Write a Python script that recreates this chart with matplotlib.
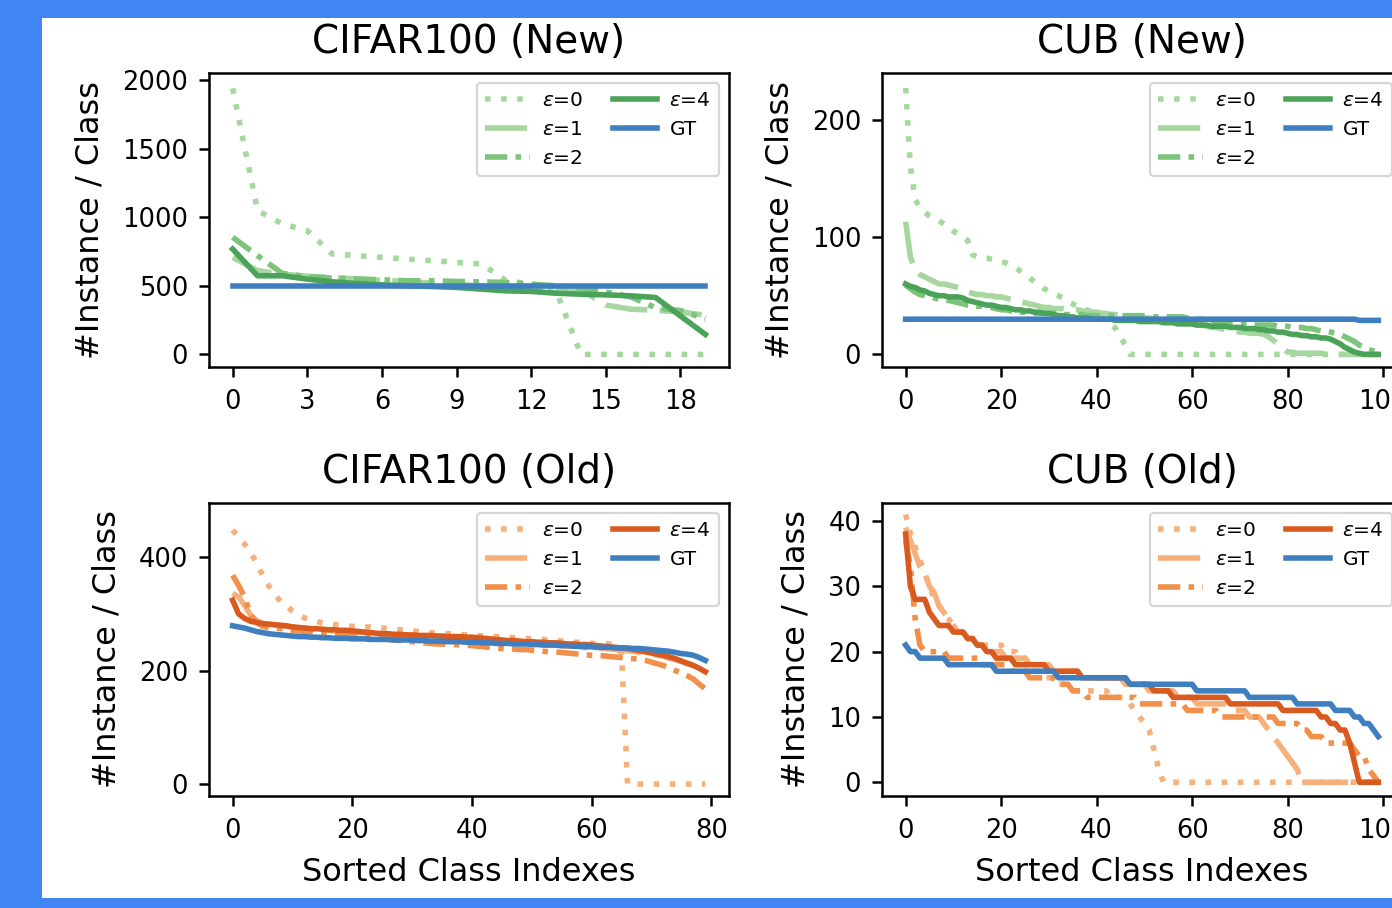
import numpy as np
import matplotlib
matplotlib.use('Agg')
import matplotlib.pyplot as plt
from matplotlib.patches import Rectangle

# ---- data (instances per sorted class) ----
cifar_new_eps0 = [1939, 1049, 951, 902, 732, 720, 707, 695, 683, 671,
                  659, 537, 512, 463, 0, 0, 0, 0, 0, 0]
cifar_new_eps1 = [707, 610, 585, 570, 560, 550, 540, 530, 520, 510,
                  500, 495, 490, 480, 470, 360, 330, 322, 310, 285]
cifar_new_eps2 = [854, 720, 590, 566, 556, 549, 544, 537, 537, 532,
                  529, 524, 512, 500, 483, 455, 420, 340, 320, 260]
cifar_new_eps4 = [768, 573, 573, 549, 529, 517, 507, 500, 495, 488,
                  476, 463, 459, 446, 439, 434, 427, 415, 280, 146]
cifar_new_gt = [500] * 20

cub_new_eps0 = [227, 160, 132, 125, 121, 118, 116, 114, 111, 108,
                105, 103, 100, 97, 85, 83, 82, 82, 81, 80,
                79, 78, 76, 74, 71, 68, 65, 62, 59, 56,
                54, 52, 50, 48, 45, 43, 41, 39, 38, 36,
                34, 31, 28, 25, 22, 15, 8, 0, 0, 0,
                0, 0, 0, 0, 0, 0, 0, 0, 0, 0,
                0, 0, 0, 0, 0, 0, 0, 0, 0, 0,
                0, 0, 0, 0, 0, 0, 0, 0, 0, 0,
                0, 0, 0, 0, 0, 0, 0, 0, 0, 0,
                0, 0, 0, 0, 0, 0, 0, 0, 0, 0]
cub_new_eps1 = [113, 83, 72, 68, 66, 64, 62, 60, 60, 59,
                58, 57, 55, 53, 52, 51, 51, 50, 50, 49,
                49, 48, 47, 46, 45, 44, 43, 42, 41, 40,
                40, 39, 39, 39, 38, 38, 38, 37, 37, 36,
                36, 35, 35, 34, 34, 33, 33, 33, 32, 32,
                31, 31, 30, 30, 29, 29, 28, 28, 27, 27,
                26, 25, 25, 24, 23, 23, 22, 21, 21, 20,
                19, 19, 18, 18, 18, 17, 15, 12, 9, 5,
                2, 2, 1, 1, 1, 1, 1, 1, 0, 0,
                0, 0, 0, 0, 0, 0, 0, 0, 0, 0]
cub_new_eps2 = [59, 56, 53, 51, 50, 49, 48, 47, 47, 46,
                45, 44, 43, 42, 42, 41, 41, 40, 40, 39,
                38, 38, 37, 37, 36, 36, 35, 35, 35, 35,
                35, 35, 35, 34, 34, 34, 34, 34, 33, 33,
                33, 33, 33, 33, 33, 33, 33, 33, 33, 33,
                33, 33, 32, 32, 32, 32, 32, 32, 32, 31,
                31, 30, 30, 29, 29, 28, 28, 27, 27, 27,
                26, 26, 26, 25, 25, 25, 25, 25, 24, 24,
                24, 23, 23, 23, 22, 22, 21, 20, 20, 19,
                18, 17, 15, 13, 11, 8, 6, 4, 3, 2]
cub_new_eps4 = [60, 58, 57, 55, 54, 52, 51, 50, 50, 49,
                49, 49, 48, 46, 45, 44, 43, 42, 42, 41,
                40, 40, 39, 38, 38, 37, 37, 36, 36, 35,
                35, 34, 33, 33, 32, 32, 31, 31, 31, 30,
                30, 30, 30, 30, 29, 29, 29, 29, 29, 28,
                28, 28, 28, 28, 27, 27, 27, 26, 26, 26,
                26, 25, 25, 25, 24, 24, 24, 24, 23, 23,
                23, 22, 22, 22, 21, 21, 20, 20, 19, 19,
                18, 17, 17, 16, 16, 15, 15, 14, 14, 13,
                11, 9, 6, 4, 2, 1, 0, 0, 0, 0]
cub_new_gt = [30] * 95 + [29] * 5

cifar_old_eps0 = [448, 435, 423, 408, 390, 368, 350, 335, 322, 314,
                  305, 298, 293, 290, 287, 284, 282, 281, 280, 279,
                  278, 278, 277, 277, 276, 275, 274, 273, 272, 271,
                  270, 269, 268, 267, 266, 266, 265, 265, 264, 263,
                  262, 262, 261, 260, 260, 259, 259, 258, 258, 257,
                  256, 256, 255, 254, 253, 252, 251, 250, 250, 249,
                  248, 248, 247, 247, 246, 230, 0, 0, 0, 0,
                  0, 0, 0, 0, 0, 0, 0, 0, 0, 0]
cifar_old_eps1 = [336, 330, 315, 298, 288, 284, 282, 280, 279, 278,
                  277, 276, 275, 274, 273, 272, 271, 270, 270, 269,
                  268, 267, 267, 266, 265, 264, 264, 263, 262, 262,
                  261, 260, 260, 259, 258, 258, 257, 256, 256, 255,
                  254, 254, 253, 252, 252, 251, 250, 250, 249, 248,
                  248, 247, 246, 246, 245, 244, 243, 243, 242, 241,
                  240, 240, 239, 238, 237, 236, 235, 234, 232, 231,
                  229, 227, 225, 222, 219, 216, 212, 209, 206, 203]
cifar_old_eps2 = [368, 350, 330, 298, 285, 278, 276, 275, 274, 273,
                  271, 270, 269, 268, 267, 266, 265, 264, 263, 262,
                  261, 260, 259, 258, 257, 256, 255, 254, 253, 252,
                  251, 250, 249, 248, 247, 247, 246, 246, 245, 245,
                  244, 243, 242, 241, 240, 239, 238, 238, 237, 237,
                  236, 235, 234, 233, 233, 232, 231, 230, 229, 228,
                  227, 227, 226, 225, 224, 223, 222, 221, 220, 218,
                  215, 212, 209, 205, 200, 196, 191, 185, 176, 168]
cifar_old_eps4 = [324, 300, 292, 287, 285, 283, 282, 281, 280, 279,
                  277, 276, 275, 274, 274, 273, 272, 272, 271, 271,
                  270, 269, 268, 267, 266, 265, 265, 264, 264, 263,
                  263, 262, 262, 262, 261, 261, 260, 260, 260, 259,
                  259, 258, 257, 256, 255, 254, 253, 253, 252, 251,
                  251, 250, 250, 249, 249, 248, 247, 247, 246, 246,
                  245, 244, 243, 242, 241, 240, 239, 237, 235, 233,
                  231, 229, 227, 224, 221, 217, 213, 209, 204, 198]
cifar_old_gt = [279, 277, 275, 272, 269, 267, 265, 264, 263, 262,
                261, 260, 260, 259, 259, 258, 258, 257, 257, 257,
                256, 256, 256, 255, 255, 255, 255, 254, 254, 254,
                254, 253, 253, 252, 252, 252, 251, 251, 251, 250,
                250, 250, 249, 249, 248, 248, 248, 247, 247, 247,
                246, 246, 245, 245, 245, 244, 244, 243, 243, 242,
                242, 241, 241, 241, 240, 240, 240, 239, 239, 238,
                237, 236, 235, 234, 232, 230, 229, 227, 223, 218]

cub_old_eps0 = [41, 38, 36, 34, 32, 30, 28, 27, 26, 25,
                24, 23, 23, 22, 22, 22, 21, 21, 21, 21,
                21, 20, 20, 20, 19, 19, 18, 17, 17, 16,
                16, 16, 15, 15, 15, 14, 14, 14, 14, 14,
                14, 14, 14, 13, 13, 13, 13, 12, 11, 10,
                9, 8, 5, 2, 0, 0, 0, 0, 0, 0,
                0, 0, 0, 0, 0, 0, 0, 0, 0, 0,
                0, 0, 0, 0, 0, 0, 0, 0, 0, 0,
                0, 0, 0, 0, 0, 0, 0, 0, 0, 0,
                0, 0, 0, 0, 0, 0, 0, 0, 0, 0]
cub_old_eps1 = [39, 37, 35, 33, 32, 30, 29, 27, 26, 25,
                24, 23, 23, 22, 22, 21, 21, 20, 20, 20,
                20, 19, 19, 19, 19, 19, 18, 18, 18, 18,
                18, 17, 17, 17, 17, 17, 17, 16, 16, 16,
                16, 16, 16, 16, 16, 16, 15, 15, 15, 15,
                15, 14, 14, 14, 14, 14, 14, 13, 13, 13,
                13, 12, 12, 12, 12, 12, 12, 12, 11, 11,
                11, 11, 10, 10, 10, 9, 8, 7, 6, 5,
                4, 3, 2, 0, 0, 0, 0, 0, 0, 0,
                0, 0, 0, 0, 0, 0, 0, 0, 0, 0]
cub_old_eps2 = [37, 33, 25, 21, 20, 20, 20, 20, 20, 19,
                19, 19, 19, 19, 19, 19, 18, 18, 18, 18,
                18, 18, 17, 17, 17, 17, 16, 16, 16, 16,
                16, 16, 15, 15, 15, 14, 14, 14, 13, 13,
                13, 13, 13, 13, 13, 13, 13, 13, 13, 12,
                12, 12, 12, 12, 12, 12, 12, 12, 12, 11,
                11, 11, 11, 11, 11, 11, 10, 10, 10, 10,
                10, 10, 10, 10, 10, 10, 10, 10, 9, 9,
                9, 9, 9, 8, 8, 7, 7, 7, 6, 6,
                6, 6, 6, 6, 5, 4, 4, 2, 1, 0]
cub_old_eps4 = [38, 30, 28, 28, 28, 26, 25, 24, 24, 24,
                23, 23, 23, 22, 22, 21, 21, 20, 20, 19,
                19, 19, 19, 18, 18, 18, 18, 18, 18, 18,
                17, 17, 17, 17, 17, 17, 17, 16, 16, 16,
                16, 16, 16, 16, 16, 16, 16, 15, 15, 15,
                15, 15, 14, 14, 14, 14, 13, 13, 13, 13,
                13, 13, 13, 13, 13, 13, 13, 13, 12, 12,
                12, 12, 12, 12, 12, 12, 12, 12, 12, 11,
                11, 11, 11, 11, 11, 11, 11, 10, 10, 9,
                9, 8, 8, 6, 3, 0, 0, 0, 0, 0]
cub_old_gt = [21, 20, 20, 19, 19, 19, 19, 19, 19, 18,
              18, 18, 18, 18, 18, 18, 18, 18, 18, 17,
              17, 17, 17, 17, 17, 17, 17, 17, 17, 17,
              17, 17, 16, 16, 16, 16, 16, 16, 16, 16,
              16, 16, 16, 16, 16, 16, 16, 15, 15, 15,
              15, 15, 15, 15, 15, 15, 15, 15, 15, 15,
              15, 14, 14, 14, 14, 14, 14, 14, 14, 14,
              14, 14, 13, 13, 13, 13, 13, 13, 13, 13,
              13, 13, 12, 12, 12, 12, 12, 12, 12, 12,
              11, 11, 11, 11, 10, 10, 9, 9, 8, 7]

labels = [r'$\varepsilon$=0', r'$\varepsilon$=1', r'$\varepsilon$=2',
          r'$\varepsilon$=4', 'GT']
styles = [(0, (1, 1.9)), (0, (7.6, 2.2)), (0, (4, 1.5, 1, 1.5)), '-', '-']
greens = ['#a6d79e', '#a6d79e', '#7cc47a', '#4ba35a', '#3f7fbf']
oranges = ['#f6b07b', '#f6b07b', '#f0904a', '#d95a1f', '#3f7fbf']

W, H = 1392, 908
fig = plt.figure(figsize=(W / 100, H / 100), dpi=100, facecolor='#4285f4')
fig.add_artist(Rectangle((42 / W, 10 / H), 1 - 42 / W, 880 / H,
                         transform=fig.transFigure, facecolor='white',
                         edgecolor='none', zorder=-1))


def add_ax(left, top, bottom, width=520):
    return fig.add_axes([left / W, 1 - bottom / H, width / W, (bottom - top) / H])


def panel(ax, series, colors, title, xticks, yticks, ylim, xlabel=False):
    for ys, c, ls, lab in zip(series, colors, styles, labels):
        ax.plot(np.arange(len(ys)), ys, color=c, ls=ls, lw=4, label=lab)
    ax.set_xticks(xticks)
    ax.set_yticks(yticks)
    ax.set_ylim(*ylim)
    ax.set_title(title, fontsize=28, pad=14)
    ax.set_ylabel('#Instance / Class', fontsize=23, labelpad=12)
    if xlabel:
        ax.set_xlabel('Sorted Class Indexes', fontsize=23, labelpad=9)
    ax.tick_params(labelsize=18.5, length=7, width=1.8)
    ax.tick_params(axis='x', pad=9)
    ax.tick_params(axis='y', pad=8)
    for s in ax.spines.values():
        s.set_linewidth(1.8)
    leg = ax.legend(loc='upper right', ncol=2, fontsize=14.5, handlelength=2.2,
                    handletextpad=0.6, columnspacing=1.5, borderaxespad=0.5)
    leg.get_frame().set_linewidth(1.6)


ax1 = add_ax(209, 72.7, 366.5)
panel(ax1, [cifar_new_eps0, cifar_new_eps1, cifar_new_eps2, cifar_new_eps4, cifar_new_gt],
      greens, 'CIFAR100 (New)', range(0, 19, 3), [0, 500, 1000, 1500, 2000], (-88, 2053))

ax2 = add_ax(882, 72.7, 366.5)
panel(ax2, [cub_new_eps0, cub_new_eps1, cub_new_eps2, cub_new_eps4, cub_new_gt],
      greens, 'CUB (New)', range(0, 101, 20), [0, 100, 200], (-10.3, 240))

ax3 = add_ax(209, 502.7, 796)
panel(ax3, [cifar_old_eps0, cifar_old_eps1, cifar_old_eps2, cifar_old_eps4, cifar_old_gt],
      oranges, 'CIFAR100 (Old)', range(0, 81, 20), [0, 200, 400], (-21, 496), xlabel=True)

ax4 = add_ax(882, 502.7, 796)
panel(ax4, [cub_old_eps0, cub_old_eps1, cub_old_eps2, cub_old_eps4, cub_old_gt],
      oranges, 'CUB (Old)', range(0, 101, 20), [0, 10, 20, 30, 40], (-2.1, 42.8), xlabel=True)

fig.savefig('out.png', dpi=100, facecolor=fig.get_facecolor())
